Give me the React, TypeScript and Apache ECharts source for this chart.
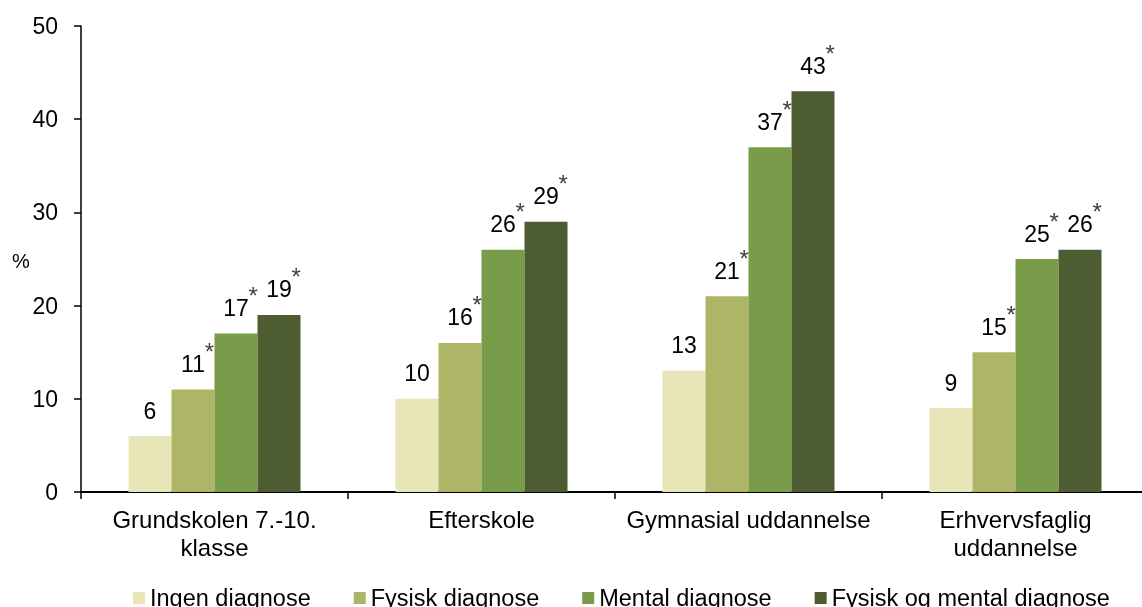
import React, { useEffect, useRef } from "react";
import * as echarts from "echarts";

const categories = [
  "Grundskolen 7.-10.\nklasse",
  "Efterskole",
  "Gymnasial uddannelse",
  "Erhvervsfaglig\nuddannelse",
];
const seriesNames = [
  "Ingen diagnose",
  "Fysisk diagnose",
  "Mental diagnose",
  "Fysisk og mental diagnose",
];
const ingenValues = [6, 10, 13, 9];
const fysiskValues = [11, 16, 21, 15];
const mentalValues = [17, 26, 37, 25];
const beggeValues = [19, 29, 43, 26];
const ingenSig = [false, false, false, false];
const fysiskSig = [true, true, true, true];
const mentalSig = [true, true, true, true];
const beggeSig = [true, true, true, true];
const yTicks = [0, 10, 20, 30, 40, 50];

const colors = ["#E8E5B8", "#AFB566", "#789C4A", "#4E5C31"];
const FONT = "'Liberation Sans', Arial, sans-serif";

export default function App() {
  const ref = useRef<HTMLDivElement>(null);

  useEffect(() => {
    if (!ref.current) return;
    const chart = echarts.init(ref.current, undefined, { renderer: "svg" });
    const values = [ingenValues, fysiskValues, mentalValues, beggeValues];
    const sigs = [ingenSig, fysiskSig, mentalSig, beggeSig];

    const series = values.map((vals, si) => ({
      name: seriesNames[si],
      type: "bar",
      data: vals,
      barWidth: 43,
      barGap: "0%",
      itemStyle: { color: colors[si] },
      label: {
        show: true,
        position: "top",
        distance: 14,
        formatter: (p: any) =>
          sigs[si][p.dataIndex] ? `{sp| }{v|${p.value}}{s|*}` : `{v|${p.value}}`,
        rich: {
          v: {
            fontSize: 23,
            lineHeight: 26,
            color: "#000",
            fontFamily: FONT,
            verticalAlign: "bottom",
          },
          sp: { fontSize: 16, width: 9, lineHeight: 36 },
          s: {
            fontSize: 24,
            lineHeight: 24,
            width: 9,
            color: "#404040",
            fontFamily: FONT,
            verticalAlign: "top",
          },
        },
      },
    }));

    chart.setOption({
      animation: false,
      textStyle: { fontFamily: FONT },
      grid: { left: 81, right: 1, top: 26, bottom: 115, containLabel: false },
      legend: {
        data: seriesNames,
        left: 133,
        top: 586,
        padding: 0,
        icon: "rect",
        itemWidth: 12,
        itemHeight: 12,
        itemGap: 43,
        textStyle: { fontSize: 23.5, color: "#000", fontFamily: FONT },
      },
      xAxis: {
        type: "category",
        data: categories,
        axisLine: { lineStyle: { color: "#000", width: 2 } },
        axisTick: { show: true, length: 7, lineStyle: { color: "#000", width: 1.5 } },
        axisLabel: {
          color: "#000",
          fontSize: 24,
          lineHeight: 28,
          margin: 13,
          fontFamily: FONT,
          interval: 0,
        },
      },
      yAxis: {
        type: "value",
        min: yTicks[0],
        max: yTicks[yTicks.length - 1],
        interval: 10,
        axisLine: { show: true, lineStyle: { color: "#000", width: 1.5 } },
        axisTick: { show: true, length: 7, lineStyle: { color: "#000", width: 1.5 } },
        splitLine: { show: false },
        axisLabel: { color: "#000", fontSize: 23, margin: 23, fontFamily: FONT },
      },
      graphic: [
        {
          type: "text",
          left: 12,
          top: 251,
          style: { text: "%", fontSize: 20, fill: "#000", fontFamily: FONT },
        },
      ],
      series,
    });

    return () => chart.dispose();
  }, []);

  return (
    <div
      style={{
        position: "fixed",
        left: 0,
        top: 0,
        width: 1142,
        height: 607,
        overflow: "hidden",
      }}
    >
      <div ref={ref} style={{ width: 1150, height: 607 }} />
    </div>
  );
}
